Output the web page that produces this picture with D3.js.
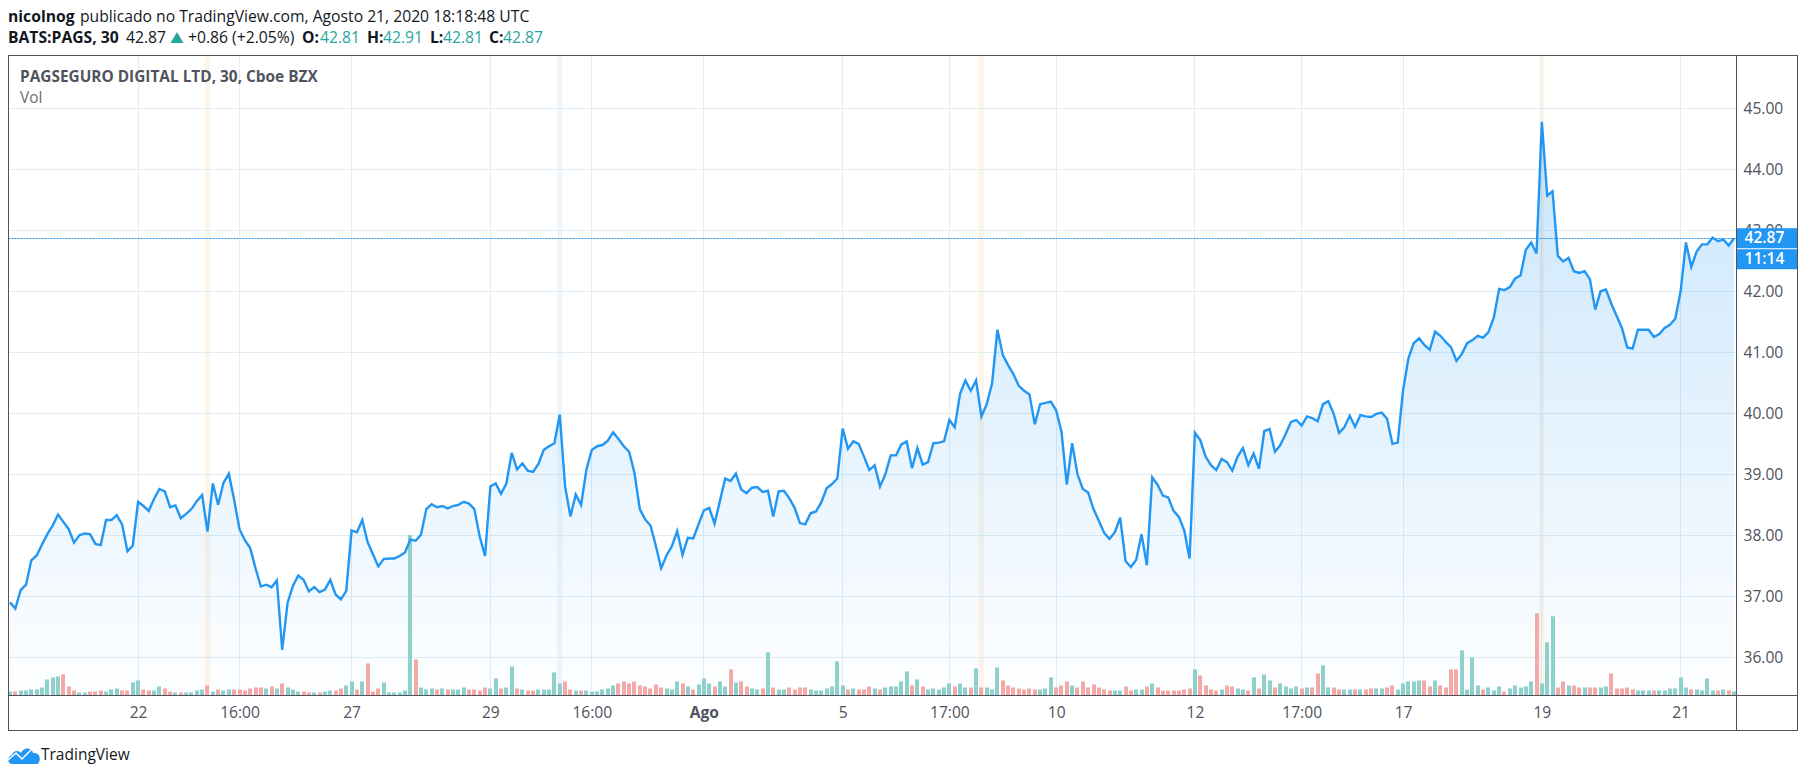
<!DOCTYPE html>
<html>
<head>
<meta charset="utf-8">
<style>
  html, body { margin: 0; padding: 0; background: #fff; }
  text { font-family: "Open Sans", "Noto Sans", sans-serif; }
</style>
<script src="https://cdnjs.cloudflare.com/ajax/libs/d3/7.8.5/d3.min.js"></script>
</head>
<body>
<div id="chart"></div>
<script>
// close of each 30 min bar
var closes = [
  36.90,36.80,37.10,37.19,37.59,37.67,37.85,38.02,38.16,38.34,38.22,38.10,37.88,38.00,38.03,38.02,
  37.86,37.84,38.25,38.25,38.33,38.18,37.74,37.83,38.55,38.48,38.40,38.60,38.76,38.72,38.46,38.49,
  38.28,38.35,38.43,38.56,38.66,38.06,38.85,38.50,38.86,39.01,38.58,38.10,37.92,37.79,37.46,37.16,
  37.19,37.15,37.26,36.12,36.89,37.17,37.34,37.27,37.08,37.15,37.07,37.11,37.27,37.03,36.95,37.09,
  38.08,38.05,38.25,37.89,37.69,37.49,37.61,37.62,37.62,37.66,37.72,37.93,37.91,38.01,38.43,38.51,
  38.46,38.48,38.44,38.48,38.50,38.55,38.52,38.43,37.98,37.66,38.80,38.85,38.68,38.85,39.35,39.08,
  39.18,39.06,39.04,39.17,39.40,39.46,39.51,39.98,38.80,38.31,38.67,38.50,39.08,39.40,39.46,39.48,
  39.55,39.69,39.58,39.46,39.37,39.02,38.43,38.26,38.16,37.83,37.46,37.67,37.82,38.07,37.68,37.96,
  37.95,38.18,38.41,38.45,38.19,38.56,38.93,38.89,39.01,38.75,38.69,38.78,38.79,38.71,38.73,38.31,
  38.72,38.73,38.61,38.45,38.20,38.18,38.36,38.39,38.54,38.77,38.84,38.93,39.75,39.42,39.54,39.50,
  39.29,39.07,39.15,38.80,39.00,39.31,39.31,39.49,39.54,39.10,39.43,39.16,39.20,39.51,39.52,39.54,
  39.89,39.77,40.32,40.54,40.37,40.54,39.95,40.15,40.49,41.37,40.96,40.79,40.64,40.45,40.37,40.31,
  39.82,40.15,40.17,40.19,40.05,39.70,38.83,39.51,39.00,38.76,38.70,38.43,38.24,38.04,37.94,38.05,
  38.29,37.58,37.48,37.60,38.02,37.51,38.95,38.83,38.65,38.62,38.40,38.30,38.08,37.62,39.68,39.56,
  39.29,39.15,39.07,39.25,39.20,39.06,39.29,39.43,39.15,39.34,39.09,39.71,39.74,39.37,39.48,39.66,
  39.86,39.89,39.80,39.95,39.92,39.87,40.15,40.20,39.99,39.68,39.77,39.96,39.78,39.97,39.95,39.94,
  39.99,40.01,39.91,39.50,39.52,40.38,40.90,41.15,41.23,41.12,41.04,41.34,41.27,41.17,41.08,40.86,
  40.97,41.15,41.20,41.27,41.24,41.33,41.57,42.04,42.02,42.07,42.21,42.26,42.68,42.80,42.62,44.78,
  43.57,43.64,42.58,42.49,42.55,42.33,42.30,42.33,42.20,41.70,42.00,42.03,41.80,41.60,41.40,41.08,
  41.06,41.37,41.37,41.37,41.25,41.30,41.40,41.45,41.55,42.00,42.80,42.40,42.65,42.77,42.77,42.88,
  42.82,42.85,42.75,42.87
];

// volume of each bar in thousands of shares
var volumes = [
  4,4,5,5,6,6,8,16,18,19,21,9,5,3,3,4,4,5,4,6,7,5,5,13,15,6,5,5,9,7,4,3,
  3,3,3,5,6,10,4,6,5,6,6,6,5,7,8,8,7,9,7,12,8,6,4,4,3,3,3,4,5,5,7,10,
  14,6,14,32,4,7,13,3,3,3,5,160,36,8,6,7,6,7,6,6,6,8,6,6,5,8,7,17,7,8,29,7,
  6,5,5,6,6,6,23,12,14,6,5,5,5,4,4,6,7,10,12,14,12,14,10,9,7,11,8,7,6,14,12,9,
  6,11,17,12,9,14,9,26,13,14,9,7,6,7,43,8,6,6,8,6,8,8,6,5,5,7,9,34,10,6,
  7,6,6,9,7,6,8,9,9,14,24,10,16,9,6,7,6,8,12,9,12,8,8,27,8,8,6,28,15,10,
  8,7,6,7,6,6,7,18,8,10,14,10,8,14,8,11,8,6,5,5,5,9,5,6,6,9,12,8,5,5,5,5,
  6,7,26,20,10,6,5,6,10,9,7,6,5,18,7,21,15,8,12,9,7,9,7,8,8,22,30,8,8,6,6,6,
  6,6,6,7,7,7,8,10,6,12,14,14,15,15,9,15,10,8,26,26,45,6,38,10,6,8,5,9,4,7,
  10,8,9,14,82,12,53,79,8,14,10,10,8,8,8,8,8,9,22,7,7,8,6,5,5,5,5,5,5,7,7,18,
  8,6,6,5,17,5,5,6,5,4
];
// bars that closed above their open although the close-to-close move is down
var upOverrides = [288];

var priceTicks = [36, 37, 38, 39, 40, 41, 42, 43, 44, 45];
var timeTickBars = [24, 43, 64, 90, 109, 130, 156, 176, 196, 222, 242, 261, 287, 313];
var timeTickLabels = ["22", "16:00", "27", "29", "16:00", "Ago", "5", "17:00", "10", "12", "17:00", "17", "19", "21"];
var eventBars = [37, 103, 182, 287];
var eventColors = ["#fff4e8", "#ecf6fe", "#fff4e8", "#fff4e8"];

var lastPrice = 42.87;
var countdown = "11:14";

var svgWidth = 1805;
var svgHeight = 778;
var frame = { left: 8.5, top: 55.5, right: 1797.5, bottom: 730.5 };
var axisX = 1736.5;
var axisY = 695.5;

var textDark = "#131722";
var textGray = "#50535e";
var blue = "#2196f3";
var teal = "#26a69a";
var gridColor = "#e1ecf3";

var svg = d3.select("#chart")
  .append("svg")
  .attr("width", svgWidth)
  .attr("height", svgHeight)
  .style("display", "block");

var xScale = d3.scaleLinear().domain([0, closes.length - 1]).range([10, 1734]);
var yScale = d3.scaleLinear().domain([36, 45]).range([657.3, 108.3]);
var volScale = d3.scaleLinear().domain([0, 160]).range([axisY, 535]);

// keeps the 1px lines crisp
function crisp(v) {
  return Math.floor(v) + 0.5;
}

var defs = svg.append("defs");
var gradient = defs.append("linearGradient")
  .attr("id", "areaFill")
  .attr("gradientUnits", "userSpaceOnUse")
  .attr("x1", 0).attr("x2", 0)
  .attr("y1", yScale(45)).attr("y2", axisY);
gradient.append("stop").attr("offset", "0%").attr("stop-color", blue).attr("stop-opacity", 0.25);
gradient.append("stop").attr("offset", "100%").attr("stop-color", blue).attr("stop-opacity", 0.007);

// header lines
var header = svg.append("g").style("font-size", "15.7px");
function headerText(x, y, str, bold, color) {
  header.append("text")
    .attr("x", x).attr("y", y)
    .attr("font-weight", bold ? 700 : 400)
    .attr("fill", color || textDark)
    .text(str);
}
headerText(8, 22, "nicolnog", true);
headerText(80, 22, "publicado no TradingView.com, Agosto 21, 2020 18:18:48 UTC", false);
headerText(8, 43, "BATS:PAGS, 30", true);
headerText(126, 43, "42.87", false);
headerText(188, 43, "+0.86 (+2.05%)", false);
headerText(302, 43, "O:", true);
headerText(320, 43, "42.81", false, teal);
headerText(367, 43, "H:", true);
headerText(383, 43, "42.91", false, teal);
headerText(430, 43, "L:", true);
headerText(443, 43, "42.81", false, teal);
headerText(489, 43, "C:", true);
headerText(503, 43, "42.87", false, teal);
header.append("path").attr("d", "M177,32 L183.5,43 L170.5,43 Z").attr("fill", teal);

// highlighted bars behind everything
svg.append("g").selectAll("rect")
  .data(eventBars)
  .enter()
  .append("rect")
  .attr("x", d => xScale(d) - 2.5)
  .attr("y", frame.top)
  .attr("width", 5)
  .attr("height", axisY - frame.top)
  .attr("fill", (d, i) => eventColors[i]);

// grid
svg.append("g").selectAll("line")
  .data(priceTicks)
  .enter()
  .append("line")
  .attr("x1", frame.left).attr("x2", axisX)
  .attr("y1", d => crisp(yScale(d))).attr("y2", d => crisp(yScale(d)))
  .attr("stroke", gridColor);
svg.append("g").selectAll("line")
  .data(timeTickBars)
  .enter()
  .append("line")
  .attr("x1", d => crisp(xScale(d))).attr("x2", d => crisp(xScale(d)))
  .attr("y1", frame.top).attr("y2", axisY)
  .attr("stroke", gridColor);

// area and line
var area = d3.area()
  .x((d, i) => xScale(i))
  .y0(axisY)
  .y1(d => yScale(d));
var line = d3.line()
  .x((d, i) => xScale(i))
  .y(d => yScale(d));

svg.append("path")
  .attr("d", area(closes))
  .attr("fill", "url(#areaFill)");

// volume bars
svg.append("g").selectAll("rect")
  .data(volumes)
  .enter()
  .append("rect")
  .attr("x", (d, i) => Math.round(xScale(i) - 2))
  .attr("y", d => volScale(d))
  .attr("width", 4)
  .attr("height", d => axisY - volScale(d))
  .attr("fill", function(d, i) {
    var up = i === 0 || closes[i] >= closes[i - 1] || upOverrides.indexOf(i) >= 0;
    return up ? "#8ed1ca" : "#f4a9a7";
  });

svg.append("path")
  .attr("d", line(closes))
  .attr("fill", "none")
  .attr("stroke", blue)
  .attr("stroke-width", 2.4);

// last price line
svg.append("line")
  .attr("x1", frame.left).attr("x2", axisX)
  .attr("y1", crisp(yScale(lastPrice))).attr("y2", crisp(yScale(lastPrice)))
  .attr("stroke", blue)
  .attr("stroke-dasharray", "2 1");

// title
svg.append("text")
  .attr("x", 20).attr("y", 82)
  .attr("font-size", 15.4)
  .attr("font-weight", 700)
  .attr("fill", textGray)
  .text("PAGSEGURO DIGITAL LTD, 30, Cboe BZX");
svg.append("text")
  .attr("x", 20).attr("y", 103)
  .attr("font-size", 15.4)
  .attr("fill", "#6a6d78")
  .text("Vol");

// axes
var yAxis = d3.axisRight(yScale)
  .tickValues(priceTicks)
  .tickFormat(d3.format(".2f"))
  .tickSize(0)
  .tickPadding(7);
var yAxisG = svg.append("g")
  .attr("transform", `translate(${axisX}, 0)`)
  .call(yAxis);
var xAxis = d3.axisBottom(xScale)
  .tickValues(timeTickBars)
  .tickFormat((d, i) => timeTickLabels[i])
  .tickSize(0)
  .tickPadding(11);
var xAxisG = svg.append("g")
  .attr("transform", `translate(0, ${axisY})`)
  .call(xAxis);
[yAxisG, xAxisG].forEach(function(g) {
  g.select(".domain").remove();
  g.selectAll("text")
    .attr("fill", textGray)
    .style("font-family", '"Open Sans", sans-serif')
    .style("font-size", "15.6px");
});
xAxisG.selectAll("text")
  .attr("font-weight", (d, i) => timeTickLabels[i] === "Ago" ? 700 : 400);

// last price and countdown tags
svg.append("rect").attr("x", axisX).attr("y", yScale(lastPrice) - 10).attr("width", frame.right - axisX).attr("height", 20).attr("fill", blue);
svg.append("rect").attr("x", axisX).attr("y", yScale(lastPrice) + 11).attr("width", frame.right - axisX).attr("height", 20).attr("fill", blue);
svg.append("text")
  .attr("x", axisX + 8).attr("y", yScale(lastPrice) + 5)
  .attr("font-size", 15.6).attr("font-weight", 600).attr("fill", "#fff")
  .text(d3.format(".2f")(lastPrice));
svg.append("text")
  .attr("x", axisX + 8).attr("y", yScale(lastPrice) + 26)
  .attr("font-size", 15.6).attr("font-weight", 600).attr("fill", "#fff")
  .text(countdown);

// chart frame
svg.append("rect")
  .attr("x", frame.left).attr("y", frame.top)
  .attr("width", frame.right - frame.left).attr("height", frame.bottom - frame.top)
  .attr("fill", "none").attr("stroke", textGray);
svg.append("line").attr("x1", frame.left).attr("x2", frame.right).attr("y1", axisY).attr("y2", axisY).attr("stroke", textGray);
svg.append("line").attr("x1", axisX).attr("x2", axisX).attr("y1", frame.top).attr("y2", frame.bottom).attr("stroke", textGray);

// tradingview logo
var logo = svg.append("g").attr("transform", "translate(8, 744)");
logo.append("path")
  .attr("d", "M4,20 C-1,20 -1,12 4,11 C5,6 11,6 13,9 C15,3 24,3 25,9 C31,8 34,14 30,20 Z")
  .attr("fill", blue);
logo.append("path")
  .attr("d", "M0,16 L8,9 L14,15 L24,5")
  .attr("fill", "none")
  .attr("stroke", "#fff")
  .attr("stroke-width", 1.5);
svg.append("text")
  .attr("x", 41).attr("y", 760)
  .attr("font-size", 15.5)
  .attr("fill", textDark)
  .text("TradingView");
</script>
</body>
</html>
